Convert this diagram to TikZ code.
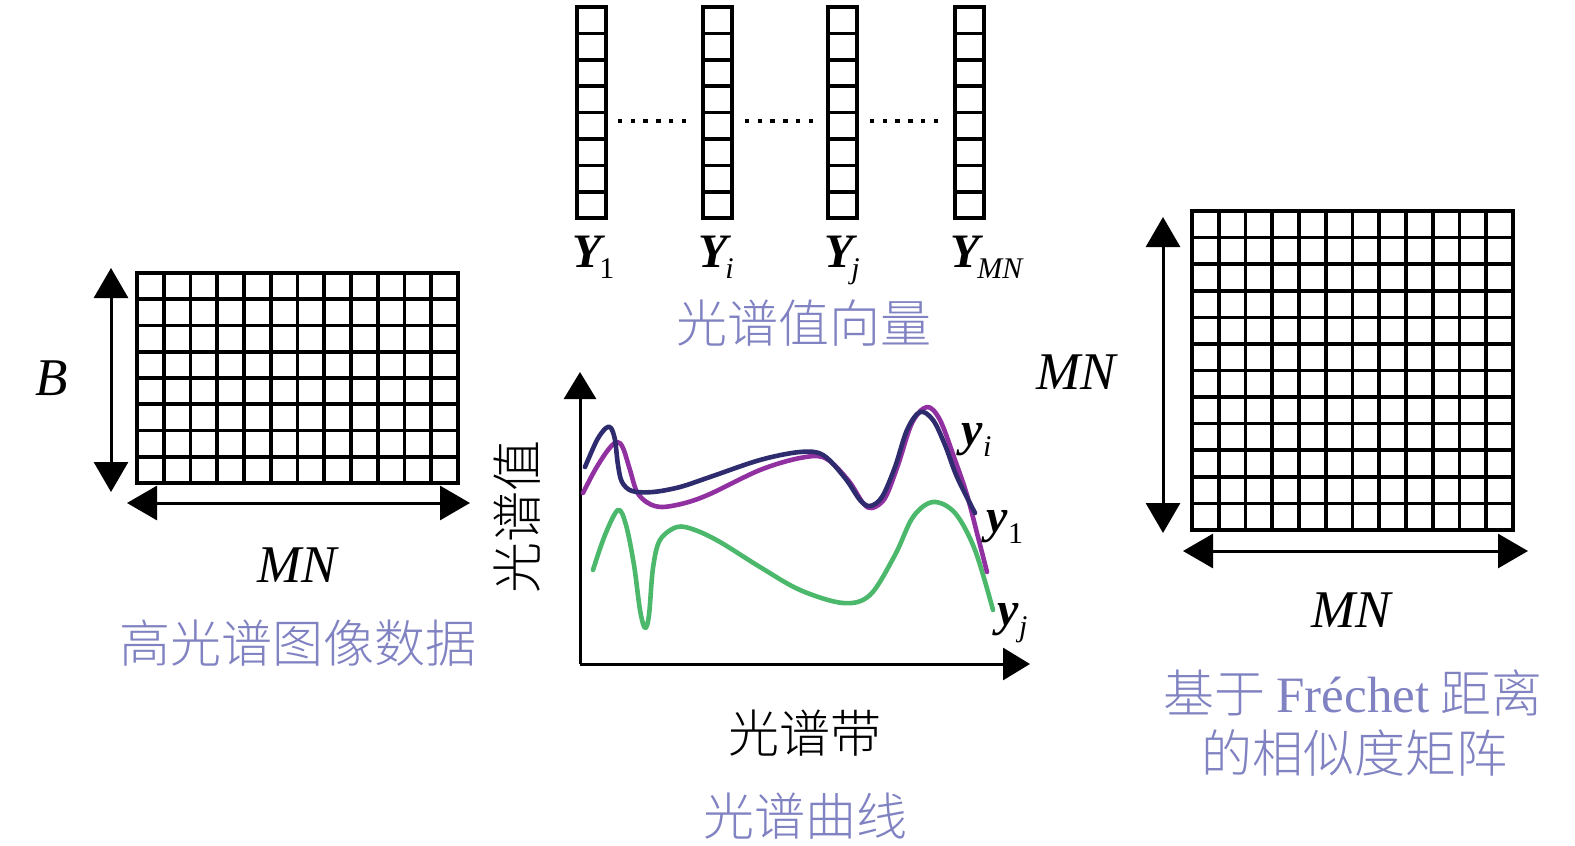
\documentclass[tikz,border=0pt]{standalone}
\usepackage{fontspec}
\setmainfont{Liberation Serif}
\newfontfamily\cjk{Noto Sans CJK SC}[UprightFont=* Light]
\usetikzlibrary{arrows.meta}
\definecolor{lav}{RGB}{128,130,194}
\definecolor{cnavy}{RGB}{46,44,110}
\definecolor{cpurple}{RGB}{145,48,160}
\definecolor{cgreen}{RGB}{76,184,108}
\newcommand\vecY[1]{{\fontsize{24pt}{24pt}\selectfont\bfseries\itshape Y}\kern-0.12em\raisebox{-5.5pt}{\fontsize{15pt}{15pt}\selectfont #1}}
\newcommand\smy[1]{{\fontsize{24pt}{24pt}\selectfont\bfseries\itshape y}\kern0.02em\raisebox{-5.5pt}{\fontsize{15pt}{15pt}\selectfont #1}}
\begin{document}
\begin{tikzpicture}[x=0.5pt,y=-0.5pt,
  gridl/.style={line width=1.8pt,black},
  dimarrow/.style={line width=1.5pt,{Triangle[length=15pt,width=17pt]}-{Triangle[length=15pt,width=17pt]}},
  axisarrow/.style={line width=1.5pt,-{Triangle[length=13.5pt,width=16pt]}},
  curve/.style={line width=2.3pt,line cap=round,line join=round},
  cjktext/.style={font=\cjk\fontsize{25.5pt}{25.5pt}\selectfont,inner sep=0pt},
  lavtext/.style={cjktext,text=lav},
  mathlbl/.style={font=\fontsize{26.5pt}{26.5pt}\selectfont\itshape,inner sep=0pt}]
\useasboundingbox (0,0) rectangle (1575,846);
\fill[white] (0,0) rectangle (1575,846);

% ---------- left grid (hyperspectral data)
\foreach \i in {1,...,11} \draw[gridl] ({137+\i*26.75},273) -- ({137+\i*26.75},483);
\foreach \j in {1,...,7} \draw[gridl] (137,{273+\j*26.25}) -- (458,{273+\j*26.25});
\draw[gridl] (137,273) rectangle (458,483);
\coordinate (lvt) at (111,268);
\coordinate (lvb) at (111,492);
\coordinate (lhl) at (127,503);
\coordinate (lhr) at (470,503);
\draw[dimarrow] (lvt) -- (lvb);
\draw[dimarrow] (lhl) -- (lhr);
\node[mathlbl] (lblB) at (52,378) {B};
\node[mathlbl] (lblMNl) at (297,565) {MN};
\node[lavtext] (lbldata) at (298,643) {高光谱图像数据};

% ---------- spectral vectors
\foreach \vx in {577,703,828,955} {
  \foreach \k in {1,...,7} \draw[gridl] (\vx,{7+\k*26.4}) -- ({\vx+29},{7+\k*26.4});
  \draw[gridl] (\vx,7) rectangle ({\vx+29},218);
}
\foreach \g in {620,747,872} \foreach \k in {0,...,5}
  \fill ({\g+\k*12.8-2.2},118.8) rectangle ++(4.4,4.4);
\node[anchor=base west,inner sep=0pt] (Y1) at (572,267) {\vecY{1}};
\node[anchor=base west,inner sep=0pt] (Yi) at (698,267) {\vecY{\itshape i}};
\node[anchor=base west,inner sep=0pt] (Yj) at (824,267) {\vecY{\itshape j}};
\node[anchor=base west,inner sep=0pt] (YMN) at (950,267) {\vecY{\itshape MN}};
\node[lavtext] (lblvec) at (804,323) {光谱值向量};

% ---------- spectral curves chart
\coordinate (org) at (580,664);
\coordinate (ytop) at (580,372);
\coordinate (xend) at (1030,664);
\draw[axisarrow] (org) -- (ytop);
\draw[axisarrow] (org) -- (xend);
\draw[curve,cgreen] plot[smooth,tension=0.55] coordinates {(593,570) (605,535) (618,510) (626,525) (634,565) (640,610) (645,628) (649,615) (653,568) (660,540) (677,527) (695,530) (720,542) (760,567) (800,590) (843,603) (870,595) (895,555) (913,517) (933,502) (955,513) (975,550) (993,610)};
\draw[curve,cpurple] plot[smooth,tension=0.55] coordinates {(583,493) (595,470) (608,450) (617,442) (623,448) (630,470) (637,492) (648,503) (662,507) (685,503) (710,494) (760,470) (800,458) (825,458) (848,480) (863,503) (872,508) (885,498) (898,465) (912,423) (927,407) (940,420) (955,460) (967,495) (978,537) (987,572)};
\draw[curve,cnavy] plot[smooth,tension=0.55] coordinates {(585,467) (597,440) (606,428) (611,428) (615,440) (618,465) (622,482) (632,491) (653,492) (680,487) (710,477) (760,460) (800,452) (823,455) (845,478) (860,500) (870,506) (882,497) (895,467) (907,430) (920,412) (933,420) (945,445) (957,477) (975,513)};
\node[anchor=base west,inner sep=0pt] (lyi) at (961,445) {\smy{\itshape i}};
\node[anchor=base west,inner sep=0pt] (ly1) at (986,532) {\smy{1}};
\node[anchor=base west,inner sep=0pt] (lyj) at (997,625) {\smy{\itshape j}};
\node[cjktext,rotate=90] (lblval) at (517,517) {光谱值};
\node[cjktext] (lblband) at (805,733) {光谱带};
\node[lavtext] (lblcurve) at (805,816) {光谱曲线};

% ---------- right grid (similarity matrix)
\foreach \i in {1,...,11} \draw[gridl] ({1192+\i*26.75},211) -- ({1192+\i*26.75},530);
\foreach \j in {1,...,11} \draw[gridl] (1192,{211+\j*26.58}) -- (1513,{211+\j*26.58});
\draw[gridl] (1192,211) rectangle (1513,530);
\coordinate (rvt) at (1163,217);
\coordinate (rvb) at (1163,533);
\coordinate (rhl) at (1183,551);
\coordinate (rhr) at (1528,551);
\draw[dimarrow] (rvt) -- (rvb);
\draw[dimarrow] (rhl) -- (rhr);
\node[mathlbl] (lblMNr1) at (1076,372) {MN};
\node[mathlbl] (lblMNr2) at (1351,610) {MN};
\node[lavtext] (lblsim1) at (1353,693) {基于 {\rmfamily Fréchet} 距离};
\node[lavtext] (lblsim2) at (1354,753) {的相似度矩阵};
\end{tikzpicture}
\end{document}
